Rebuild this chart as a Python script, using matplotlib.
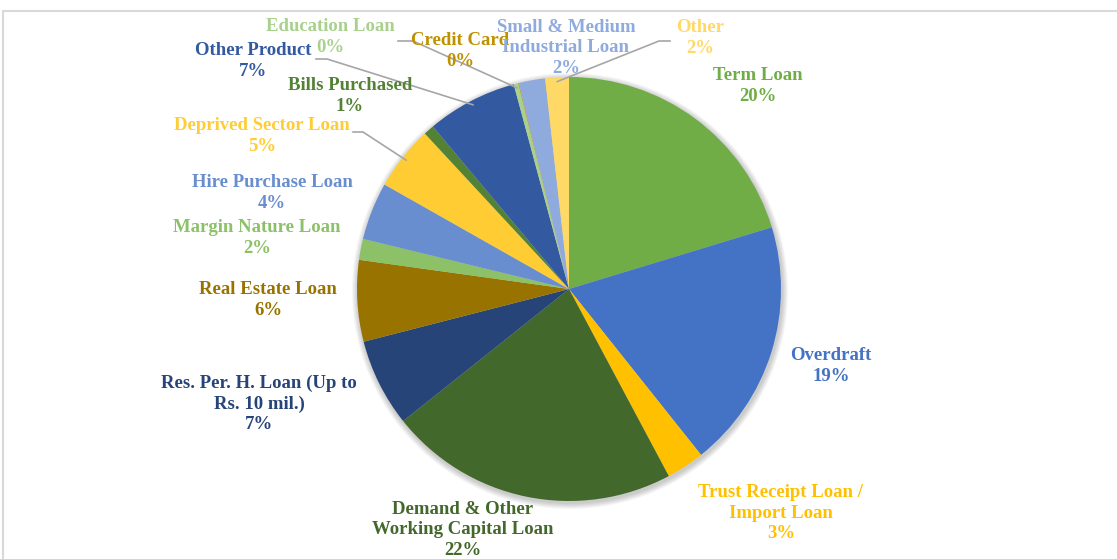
import numpy as np
import matplotlib.pyplot as plt
from matplotlib.patches import Rectangle, Circle

# loan portfolio shares, clockwise from 12 o'clock
categories = ["Term Loan", "Overdraft", "Trust Receipt Loan /\nImport Loan",
              "Demand & Other\nWorking Capital Loan", "Res. Per. H. Loan (Up to\nRs. 10 mil.)",
              "Real Estate Loan", "Margin Nature Loan", "Hire Purchase Loan",
              "Deprived Sector Loan", "Bills Purchased", "Other Product",
              "Education Loan", "Credit Card", "Small & Medium\nIndustrial Loan", "Other"]
shares = [20.3, 19.0, 2.9, 22.1, 6.7, 6.2, 1.6, 4.4, 4.9, 0.8, 6.9, 0.35, 0.05, 2.0, 1.8]
colors = ["#70AD47", "#4472C4", "#FFC000", "#43682B", "#264478", "#997300",
          "#8CC168", "#698ED0", "#FFCD33", "#548235", "#335AA1",
          "#A9D18E", "#BF9000", "#8FAADC", "#FFD966"]

W, H = 1117, 559
# label block centres in pixels (x, y from top)
label_pos = [(758, 86), (831, 366), (781, 513), (463, 530), (259, 404),
             (268, 300), (257, 238), (272, 193), (262, 136), (350, 96),
             (253, 61), (330, 37), (460, 51), (566, 48), (700, 38)]
# leader line start + elbow (pixels) for the labels that have one
leaders = {10: [(316, 59), (327, 59)], 11: [(398, 41), (413, 41)],
           14: [(670, 41), (659, 41)], 8: [(353, 132), (363, 132)]}

fig = plt.figure(figsize=(W / 100, H / 100), dpi=100)
ax = fig.add_axes([0, 0, 1, 1])
cx, cy, r = 569, H - 289, 212

# soft shadow behind the pie
for k in range(6):
    ax.add_patch(Circle((cx + 1, cy - 2), r + 1 + k, color="black", alpha=0.035, lw=0, zorder=0))

wedges, _ = ax.pie(shares, colors=colors, startangle=90, counterclock=False,
                   radius=r, center=(cx, cy), wedgeprops=dict(linewidth=0, zorder=1))

total = sum(shares)
for i, (name, v) in enumerate(zip(categories, shares)):
    x, y = label_pos[i]
    txt = f"{name}\n{round(100 * v / total):.0f}%"
    ax.text(x, H - y, txt, ha="center", va="center", color=colors[i],
            fontsize=13.5, fontweight="bold", family="Liberation Serif",
            linespacing=1.27, zorder=3)

for i, pts in leaders.items():
    w = wedges[i]
    mid = np.deg2rad((w.theta1 + w.theta2) / 2)
    ex, ey = cx + 0.98 * r * np.cos(mid), cy + 0.98 * r * np.sin(mid)
    xs = [p[0] for p in pts] + [ex]
    ys = [H - p[1] for p in pts] + [ey]
    ax.plot(xs, ys, color="#A6A6A6", lw=1.2, zorder=2)

ax.add_patch(Rectangle((3, -20), 1300, H - 11 + 20, fill=False,
                       edgecolor="#D9D9D9", lw=1.5, clip_on=False, zorder=4))

ax.set_xlim(0, W)
ax.set_ylim(0, H)
ax.set_aspect("equal")
ax.axis("off")
fig.savefig("out.png", dpi=100)
